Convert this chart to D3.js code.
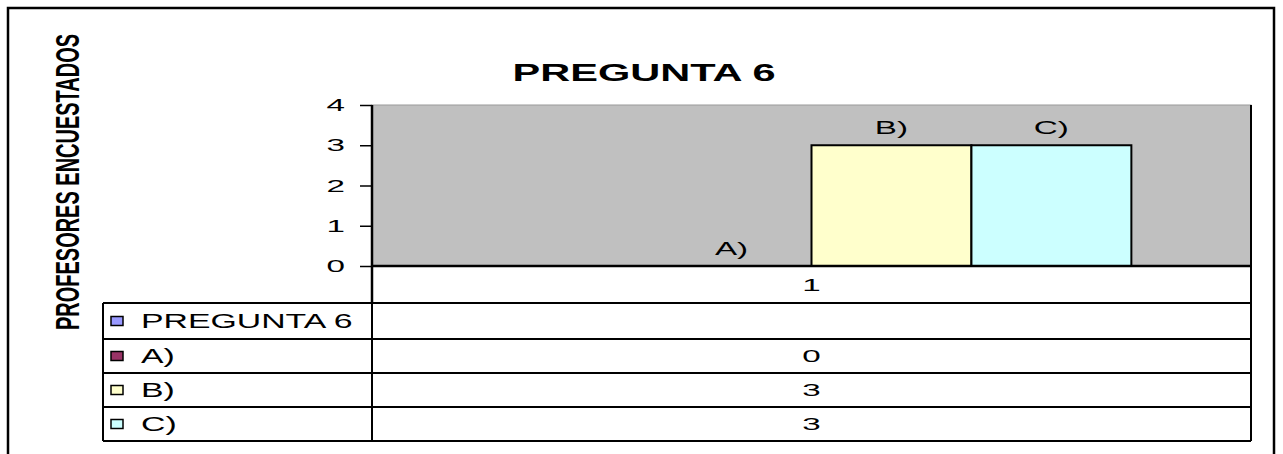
<!DOCTYPE html>
<html>
<head>
<meta charset="utf-8">
<script src="https://cdn.jsdelivr.net/npm/d3@7"></script>
<style>
  body { margin: 0; background: #fff; }
  text { font-family: "Liberation Sans", Arial, sans-serif; fill: #000; }
</style>
</head>
<body>
<div id="chart"></div>
<script>
const width = 1283, height = 454;

// data
const categories = ["1"];
const seriesNames = ["PREGUNTA 6", "A)", "B)", "C)"];
const seriesValues = [null, 0, 3, 3];
const yTicks = [0, 1, 2, 3, 4];
const titleText = "PREGUNTA 6";
const yLabel = "PROFESORES ENCUESTADOS";

// layout
const plot = { left: 372, right: 1251, top: 105, bottom: 266 };
const table = { left: 103, top: 303, rowH: [36, 34, 34, 34] };
const sx = 1.7; // the original is stretched horizontally

const colorScale = d3.scaleOrdinal()
  .domain(seriesNames)
  .range(["#9999ff", "#993366", "#ffffcc", "#ccffff"]);

const svg = d3.select("#chart").append("svg")
  .attr("width", width).attr("height", height);

// stretched text helper
const stext = (parent, x, y, str, opts = {}) => {
  const g = parent.append("g")
    .attr("transform", `translate(${x},${y}) scale(${opts.sx ?? sx},1)${opts.rotate ? " rotate(" + opts.rotate + ")" : ""}`);
  return g.append("text")
    .attr("text-anchor", opts.anchor ?? "middle")
    .attr("font-size", opts.size ?? 19)
    .attr("font-weight", opts.bold ? "bold" : "normal")
    .text(str);
};

// outer frame
svg.append("rect")
  .attr("x", 8).attr("y", 8).attr("width", 1266).attr("height", 470)
  .attr("fill", "none").attr("stroke", "#000").attr("stroke-width", 2.5);

// scales
const xCat = d3.scaleBand().domain(categories)
  .range([plot.left, plot.right]).paddingInner(0).paddingOuter(0.187);
const xSer = d3.scaleBand().domain(seriesNames).range([0, xCat.bandwidth()]);
const y = d3.scaleLinear().domain([0, 4]).range([plot.bottom, plot.top]);

// plot background
svg.append("rect")
  .attr("x", plot.left).attr("y", plot.top)
  .attr("width", plot.right - plot.left).attr("height", plot.bottom - plot.top)
  .attr("fill", "#c0c0c0").attr("stroke", "#999").attr("stroke-width", 1);

// bars
const barData = seriesNames.map((s, i) => ({ s, v: seriesValues[i] })).filter(d => d.v != null);
svg.append("g").selectAll("rect").data(barData).join("rect")
  .attr("x", d => xCat(categories[0]) + xSer(d.s))
  .attr("y", d => y(d.v))
  .attr("width", xSer.bandwidth())
  .attr("height", d => y(0) - y(d.v))
  .attr("fill", d => colorScale(d.s))
  .attr("stroke", "#000").attr("stroke-width", 2)
  .attr("display", d => d.v > 0 ? null : "none");

// bar labels
barData.forEach(d => {
  stext(svg, xCat(categories[0]) + xSer(d.s) + xSer.bandwidth() / 2, y(d.v) - 11, d.s, { size: 19, sx: 1.75 });
});

// y axis
const yAxis = svg.append("g")
  .attr("transform", `translate(${plot.left},0)`)
  .call(d3.axisLeft(y).tickValues(yTicks).tickSize(12).tickFormat(d3.format("d")));
yAxis.select(".domain").attr("stroke", "#000").attr("stroke-width", 2.5)
  .attr("d", `M0,${plot.top}V${plot.bottom + 38}`);
yAxis.selectAll(".tick line").attr("stroke", "#000").attr("stroke-width", 1.5);
yAxis.selectAll(".tick text").remove();
yTicks.forEach(t => {
  stext(svg, plot.left - 27, y(t) + 6, String(t), { size: 17, sx: 1.95, anchor: "end" });
});

// table lines
const tbl = svg.append("g").attr("stroke", "#000").attr("stroke-width", 2).attr("fill", "none");
const rowEdges = [table.top];
table.rowH.forEach(h => rowEdges.push(rowEdges[rowEdges.length - 1] + h));
tbl.append("line").attr("x1", plot.left - 1).attr("x2", plot.right).attr("y1", plot.bottom).attr("y2", plot.bottom).attr("stroke-width", 2.5);
rowEdges.forEach(ry => {
  tbl.append("line").attr("x1", table.left).attr("x2", plot.right).attr("y1", ry).attr("y2", ry);
});
tbl.append("line").attr("x1", table.left).attr("x2", table.left).attr("y1", table.top).attr("y2", rowEdges[rowEdges.length - 1]);
tbl.append("line").attr("x1", plot.left).attr("x2", plot.left).attr("y1", table.top).attr("y2", rowEdges[rowEdges.length - 1]);
tbl.append("line").attr("x1", plot.right).attr("x2", plot.right).attr("y1", plot.top).attr("y2", rowEdges[rowEdges.length - 1]);

// category label
stext(svg, xCat(categories[0]) + xCat.bandwidth() / 2, (plot.bottom + table.top) / 2 + 6, categories[0], { size: 17, sx: 1.95 });

// table rows: legend key + value
seriesNames.forEach((s, i) => {
  const mid = (rowEdges[i] + rowEdges[i + 1]) / 2;
  svg.append("rect")
    .attr("x", 111).attr("y", mid - 4.5).attr("width", 12).attr("height", 9)
    .attr("fill", colorScale(s)).attr("stroke", "#000").attr("stroke-width", 1.5);
  stext(svg, 141, mid + 7, s, { size: 20, sx: 1.69, anchor: "start" });
  if (seriesValues[i] != null) {
    stext(svg, xCat(categories[0]) + xCat.bandwidth() / 2, mid + 6, String(seriesValues[i]), { size: 17, sx: 1.95 });
  }
});

// title
stext(svg, 644, 81, titleText, { size: 24, bold: true, sx: 1.73 });

// y label (rotated, stretched across)
stext(svg, 79, 182, yLabel, { size: 20, bold: true, sx: 1.68, rotate: -90 });
</script>
</body>
</html>
